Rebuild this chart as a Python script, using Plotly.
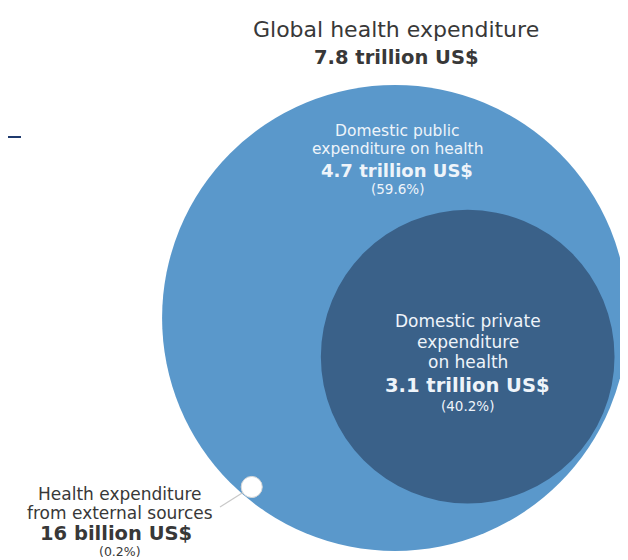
import numpy as np
import plotly.graph_objects as go

# ---- data ----
labels = ["Global health expenditure",
          "Domestic public expenditure on health",
          "Domestic private expenditure on health",
          "Health expenditure from external sources"]
values_trillion = [7.8, 4.7, 3.1, 0.016]
value_text = ["7.8 trillion US$", "4.7 trillion US$", "3.1 trillion US$", "16 billion US$"]
share_text = ["", "(59.6%)", "(40.2%)", "(0.2%)"]

W, H = 628, 560
PX = 83.4            # pixels per data unit
CX, CY = 387, 310    # pixel position of the big circle centre

def px2x(px):
    return (px - CX) / PX

def py2y(py):
    return (CY - py) / PX

R_total = np.sqrt(values_trillion[0])
R_priv = np.sqrt(values_trillion[2])
R_ext = np.sqrt(values_trillion[3])

# centres: private circle tucked inside lower-right, external circle inside lower-left
ang_priv = np.deg2rad(-28)
d_priv = R_total - R_priv - 0.045
c_priv = (d_priv * np.cos(ang_priv), d_priv * np.sin(ang_priv))
ang_ext = np.deg2rad(229.7)
d_ext = R_total - R_ext - 0.01
c_ext = (d_ext * np.cos(ang_ext), d_ext * np.sin(ang_ext))

LIGHT = "#5a98cb"
DARK = "#3a6189"
TXT_IN = "#eef4fa"
TXT_OUT = "#383838"
FONT = "DejaVu Sans"

fig = go.Figure()
fig.add_trace(go.Scatter(x=[0], y=[0], mode="markers", marker=dict(opacity=0),
                         hoverinfo="skip", showlegend=False))

def circle(c, r, fill, line_color=None, lw=0):
    fig.add_shape(type="circle", xref="x", yref="y",
                  x0=c[0] - r, x1=c[0] + r, y0=c[1] - r, y1=c[1] + r,
                  fillcolor=fill, line=dict(color=line_color or fill, width=lw),
                  layer="below")

circle((0, 0), R_total, LIGHT)
circle(c_priv, R_priv, DARK)

# connector from external circle to its label
fig.add_shape(type="line", xref="x", yref="y",
              x0=c_ext[0], y0=c_ext[1], x1=px2x(212), y1=py2y(499),
              line=dict(color="#c8c8c8", width=1.2), layer="below")
circle(c_ext, R_ext, "#ffffff", "#d8d8d8", 1)

# small navy tick at top-left
fig.add_shape(type="line", xref="paper", yref="paper",
              x0=0, x1=13 / W, y0=1 - 129 / H, y1=1 - 129 / H,
              line=dict(color="#1f3a6e", width=2))

def txt(text, px, py, size, color, bold=False):
    if bold:
        text = "<b>" + text + "</b>"
    fig.add_annotation(x=px2x(px), y=py2y(py), xref="x", yref="y", text=text,
                       showarrow=False, xanchor="center", yanchor="middle",
                       borderpad=0,
                       font=dict(family=FONT, size=size, color=color))

# title
txt(labels[0], 388, 21, 22, TXT_OUT)
txt(value_text[0], 388, 49, 19.5, TXT_OUT, bold=True)

# public
txt("Domestic public", 389, 123, 15.5, TXT_IN)
txt("expenditure on health", 389, 141, 15.5, TXT_IN)
txt(value_text[1], 389, 162, 18, TXT_IN, bold=True)
txt(share_text[1], 389, 181, 13.5, TXT_IN)

# private
pcx = CX + c_priv[0] * PX
txt("Domestic private", pcx, 313, 17, TXT_IN)
txt("expenditure", pcx, 334, 17, TXT_IN)
txt("on health", pcx, 354, 17, TXT_IN)
txt(value_text[2], pcx, 377, 19.5, TXT_IN, bold=True)
txt(share_text[2], pcx, 398, 13.5, TXT_IN)

# external
txt("Health expenditure", 112, 486, 17, TXT_OUT)
txt("from external sources", 112, 505, 17, TXT_OUT)
txt(value_text[3], 108, 525, 19.5, TXT_OUT, bold=True)
txt(share_text[3], 112, 543, 12.5, TXT_OUT)

fig.update_xaxes(range=[px2x(0), px2x(W)], visible=False, fixedrange=True)
fig.update_yaxes(range=[py2y(H), py2y(0)], visible=False, fixedrange=True)
fig.update_layout(width=W, height=H, margin=dict(l=0, r=0, t=0, b=0),
                  paper_bgcolor="white", plot_bgcolor="white", showlegend=False)

fig.write_html("out.html")
